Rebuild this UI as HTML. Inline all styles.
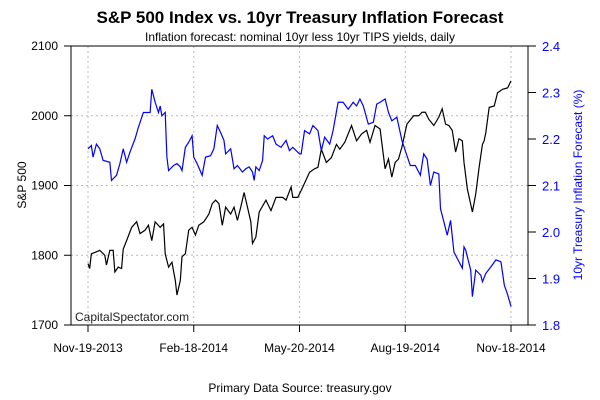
<!DOCTYPE html>
<html><head><meta charset="utf-8"><style>
body{margin:0;background:#fff}
svg{display:block;font-family:"Liberation Sans",Arial,sans-serif}
</style></head><body>
<svg id="chart" width="600" height="400">
<text x="300" y="23" text-anchor="middle" font-size="17" font-weight="bold">S&amp;P 500 Index vs. 10yr Treasury Inflation Forecast</text>
<text x="300" y="41" text-anchor="middle" font-size="12">Inflation forecast: nominal 10yr less 10yr TIPS yields, daily</text>
<g id="grid"></g>
<g id="series"></g>
<rect x="71" y="46" width="457" height="279" fill="none" stroke="#000" stroke-width="1"/>
<g id="axes"></g>
<text x="75" y="321" font-size="12" fill="#222">CapitalSpectator.com</text>
<text transform="translate(26,185) rotate(-90)" text-anchor="middle" font-size="12">S&amp;P 500</text>
<text transform="translate(582,185) rotate(-90)" text-anchor="middle" font-size="12" fill="#00f">10yr Treasury Inflation Forecast (%)</text>
<text x="300" y="392" text-anchor="middle" font-size="12">Primary Data Source: treasury.gov</text>
</svg>
<script>
const xTickLabels=["Nov-19-2013","Feb-18-2014","May-20-2014","Aug-19-2014","Nov-18-2014"];
const xTickDays=[0,63,126,189,252];
const leftTicks=[1700,1800,1900,2000,2100];
const rightTicks=[1.8,1.9,2.0,2.1,2.2,2.3,2.4];
const spxDays=[0,1,2,5,7,10,11,13,15,16,18,20,21,23,26,29,31,34,36,38,40,43,45,46,48,50,52,53,55,56,58,60,62,64,66,69,72,74,76,78,80,82,85,87,89,91,93,95,97,98,100,102,106,109,112,116,118,121,122,125,128,132,135,137,139,142,145,148,150,153,157,160,163,166,168,171,174,177,179,181,183,185,187,190,194,197,199,201,203,206,209,211,213,215,217,219,221,223,224,226,229,231,233,235,236,237,239,242,244,247,250,252];
const spxVals=[1788,1781,1802,1805,1807,1800,1786,1807,1807,1776,1783,1781,1809,1821,1840,1848,1831,1836,1843,1821,1848,1840,1845,1802,1783,1790,1764,1743,1764,1798,1802,1836,1840,1829,1843,1848,1859,1874,1879,1874,1843,1869,1859,1869,1850,1869,1890,1869,1848,1817,1826,1862,1879,1864,1883,1883,1879,1898,1883,1883,1898,1919,1924,1926,1952,1933,1940,1959,1952,1962,1986,1964,1974,1979,1962,1986,1981,1924,1938,1912,1933,1938,1955,1988,2000,2000,2005,2005,1995,1986,1998,2010,1988,1986,1979,1948,1967,1964,1933,1895,1862,1888,1926,1959,1964,1976,2012,2014,2033,2038,2040,2050];
const infDays=[0,2,3,5,7,9,13,14,17,19,21,23,25,28,30,33,37,38,40,42,43,44,46,47,48,51,53,55,56,58,60,62,63,65,68,70,73,75,77,79,81,82,85,87,89,92,94,96,98,99,100,102,104,105,107,110,112,115,118,120,122,126,127,129,132,134,137,139,141,144,146,149,152,155,158,160,162,164,167,170,172,174,177,179,181,184,187,189,192,195,198,200,202,204,206,209,210,212,214,216,218,221,223,224,225,228,229,231,234,235,237,240,243,246,248,250,252];
const infVals=[2.179,2.186,2.161,2.189,2.179,2.154,2.150,2.111,2.122,2.147,2.179,2.150,2.172,2.200,2.225,2.257,2.257,2.307,2.279,2.257,2.271,2.250,2.257,2.161,2.132,2.143,2.147,2.140,2.132,2.182,2.193,2.207,2.161,2.147,2.122,2.161,2.164,2.179,2.229,2.214,2.197,2.168,2.179,2.136,2.143,2.129,2.136,2.140,2.129,2.111,2.140,2.132,2.154,2.207,2.200,2.207,2.189,2.182,2.197,2.175,2.182,2.168,2.168,2.218,2.211,2.229,2.218,2.175,2.204,2.189,2.218,2.279,2.279,2.264,2.279,2.271,2.286,2.271,2.232,2.236,2.275,2.279,2.286,2.257,2.239,2.247,2.197,2.175,2.143,2.143,2.122,2.168,2.157,2.100,2.129,2.125,2.050,2.022,1.993,2.025,1.957,1.936,1.922,1.968,1.961,1.918,1.861,1.918,1.907,1.893,1.911,1.925,1.940,1.936,1.886,1.865,1.840];
const NS='http://www.w3.org/2000/svg';
const X0=88,X1=511,L=71,R=528,T=46,B=325;
const xs=d=>X0+(X1-X0)*d/252;
const yl=v=>B-(v-1700)/400*(B-T);
const yr=v=>B-(v-1.8)/0.6*(B-T);
function mk(tag,parent,attrs){const e=document.createElementNS(NS,tag);for(const k in attrs)e.setAttribute(k,attrs[k]);parent.appendChild(e);return e;}
const grid=document.getElementById('grid'),axes=document.getElementById('axes'),series=document.getElementById('series');
xTickDays.forEach((d,i)=>{
 const g=mk('line',grid,{x1:xs(d),x2:xs(d),y1:T,y2:B,stroke:'#bbb','stroke-dasharray':'2,3'});
 
 
 const t=mk('line',axes,{x1:xs(d),x2:xs(d),y1:B,y2:B+7,stroke:'#000'});
 
 
 const lb=mk('text',axes,{x:xs(d),y:B+27,'text-anchor':'middle','font-size':12});
 lb.textContent=xTickLabels[i];
 
 
});
leftTicks.forEach(v=>{
 if(v>1700&&v<2100){const g=mk('line',grid,{x1:L,x2:R,y1:yl(v),y2:yl(v),stroke:'#bbb','stroke-dasharray':'2,3'});
 
 }
 const t=mk('line',axes,{x1:L-7,x2:L,y1:yl(v),y2:yl(v),stroke:'#000'});
 
 
 const lb=mk('text',axes,{x:L-13,y:yl(v)+4,'text-anchor':'end','font-size':12});
 lb.textContent=v;
 
 
});
rightTicks.forEach(v=>{
 const t=mk('line',axes,{x1:R,x2:R+8,y1:yr(v),y2:yr(v),stroke:'#000'});
 
 
 const lb=mk('text',axes,{x:R+14,y:yr(v)+5,'font-size':13,fill:'#00f'});
 lb.textContent=v.toFixed(1);
 
 
});
const p1=mk('polyline',series,{points:spxDays.map((d,i)=>xs(d)+','+yl(spxVals[i])).join(' '),fill:'none',stroke:'#000','stroke-width':1.2});


const p2=mk('polyline',series,{points:infDays.map((d,i)=>xs(d)+','+yr(infVals[i])).join(' '),fill:'none',stroke:'#00f','stroke-width':1.2});


</script>
</body></html>
